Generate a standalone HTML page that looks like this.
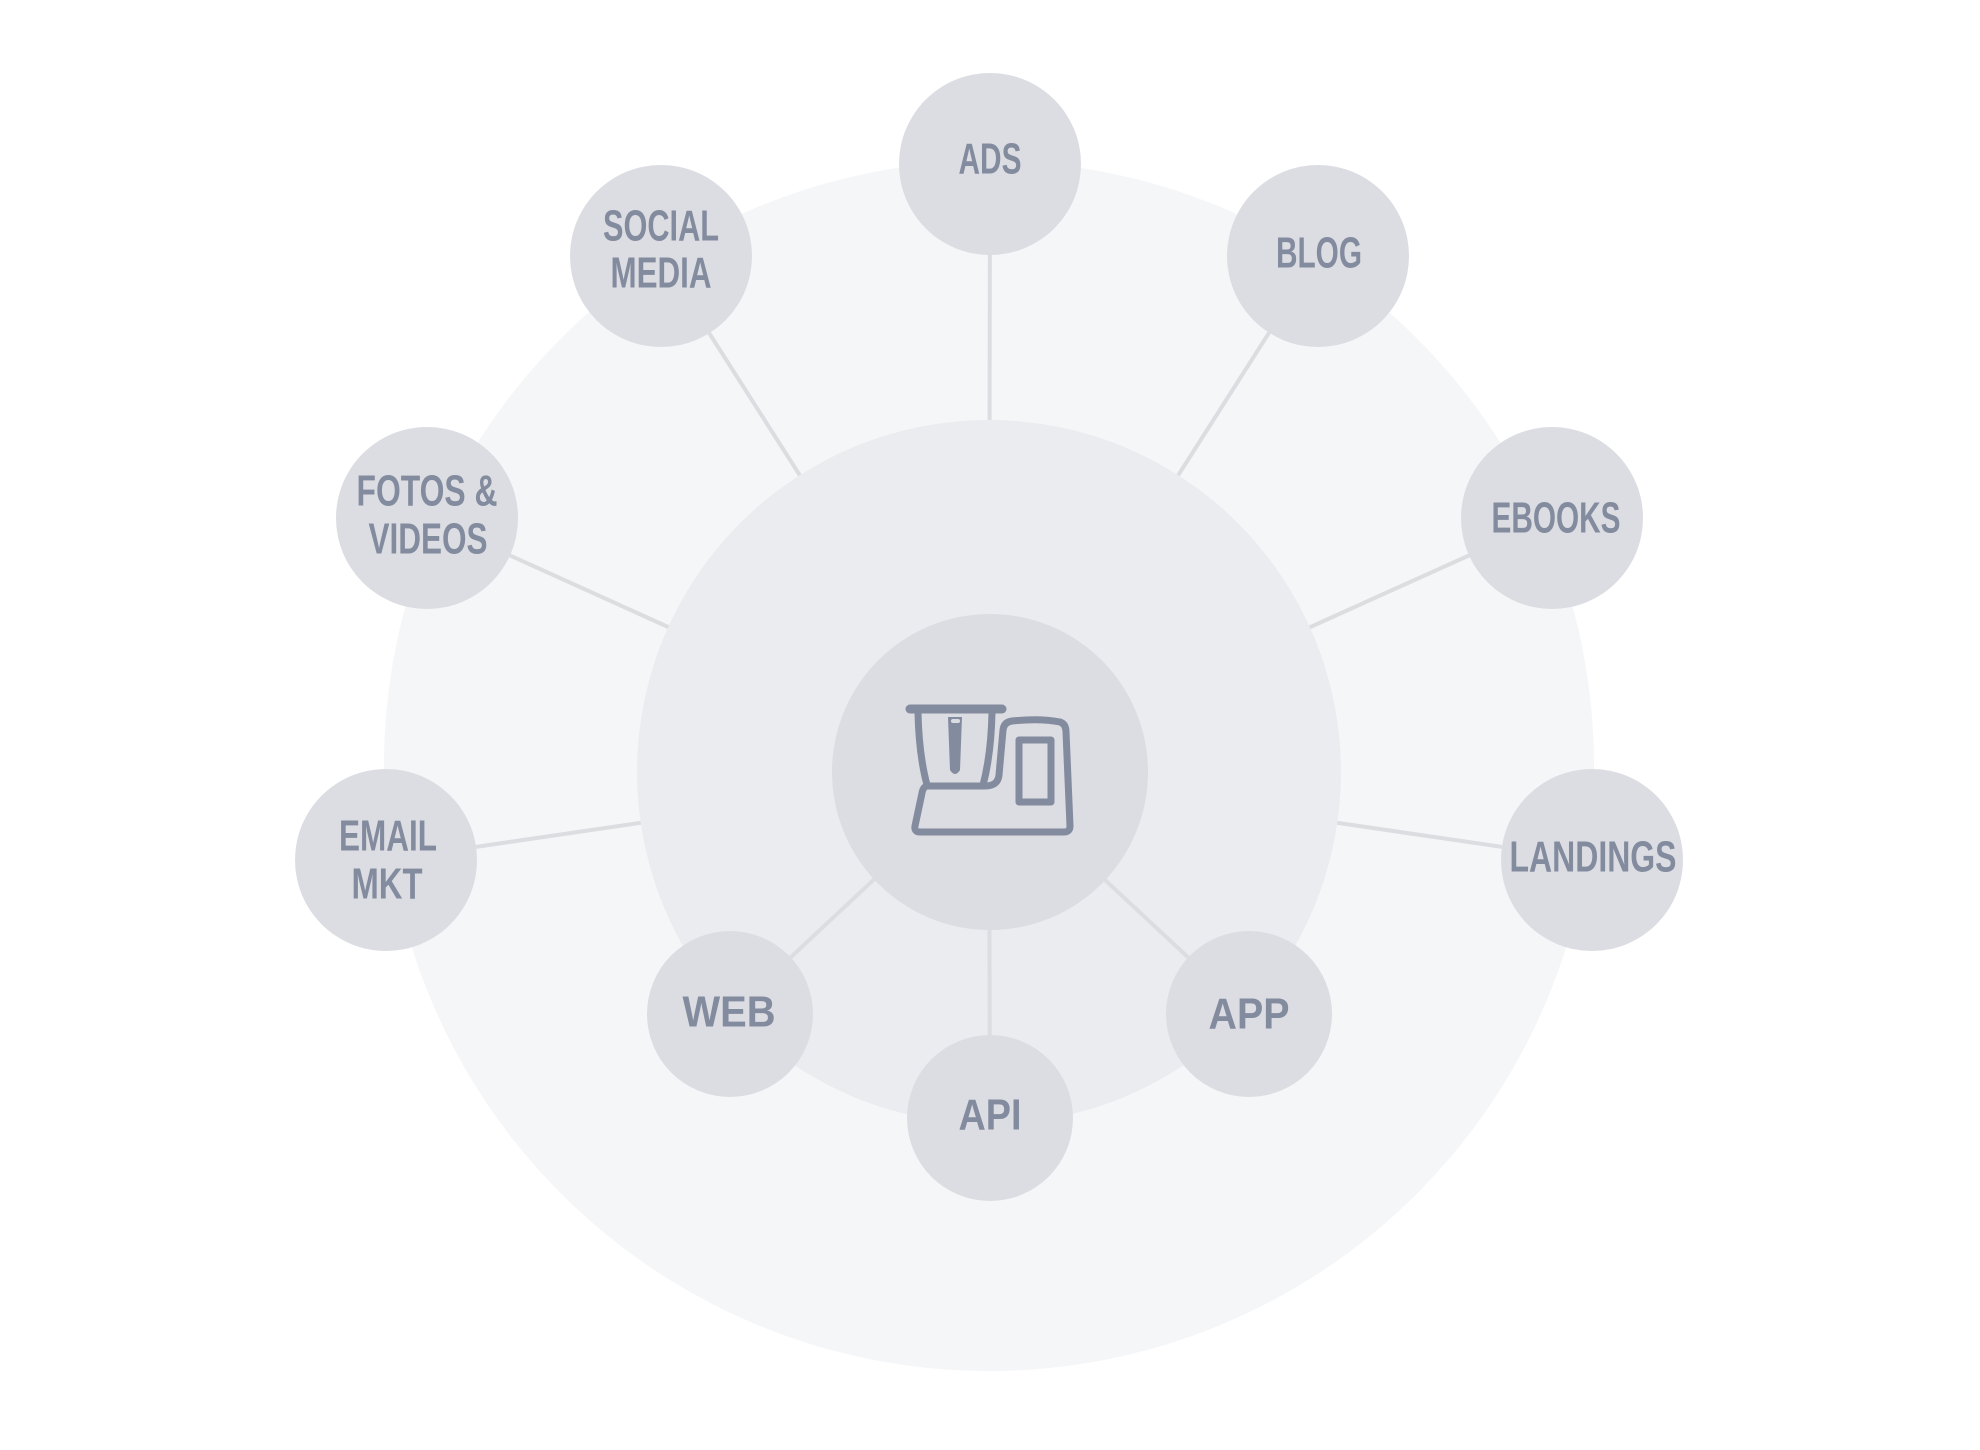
<!DOCTYPE html>
<html><head><meta charset="utf-8"><style>
html,body{margin:0;padding:0;background:#fff;}
svg{display:block}
text{font-family:"Liberation Sans Narrow","Liberation Sans",sans-serif;font-weight:bold;fill:#838b9e;font-size:44px;text-anchor:middle;dominant-baseline:central}
</style></head><body>
<svg width="1980" height="1450" viewBox="0 0 1980 1450" xmlns="http://www.w3.org/2000/svg">
<circle cx="989" cy="766" r="605" fill="#f5f6f8"/>
<g stroke="#dcdde1" stroke-width="4">
<line x1="990" y1="164" x2="989" y2="772"/>
<line x1="660" y1="256" x2="989" y2="772"/>
<line x1="1318" y1="256" x2="989" y2="772"/>
<line x1="427" y1="518" x2="989" y2="772"/>
<line x1="1552" y1="518" x2="989" y2="772"/>
<line x1="386" y1="860" x2="989" y2="772"/>
<line x1="1592" y1="860" x2="989" y2="772"/>
</g>
<circle cx="989" cy="772" r="352" fill="#ebecef"/>
<g stroke="#dcdde1" stroke-width="4">
<line x1="730" y1="1014" x2="989" y2="772"/>
<line x1="990" y1="1118" x2="989" y2="772"/>
<line x1="1249" y1="1014" x2="989" y2="772"/>
</g>
<circle cx="990" cy="772" r="158" fill="#dcdde2"/>
<g fill="#dcdde2">
<circle cx="990" cy="164" r="91"/>
<circle cx="661" cy="256" r="91"/>
<circle cx="1318" cy="256" r="91"/>
<circle cx="427" cy="518" r="91"/>
<circle cx="1552" cy="518" r="91"/>
<circle cx="386" cy="860" r="91"/>
<circle cx="1592" cy="860" r="91"/>
<circle cx="730" cy="1014" r="83"/>
<circle cx="990" cy="1118" r="83"/>
<circle cx="1249" cy="1014" r="83"/>
</g>
<g fill="none" stroke="#838b9e" stroke-width="7" stroke-linejoin="round" stroke-linecap="round">
<line x1="910" y1="709" x2="1002" y2="709" stroke-width="9"/>
<path d="M918,713 Q919,755 927,785"/>
<path d="M992,713 Q991,755 983,785"/>
<path d="M927,786 L985,786 Q998,786 999,775 L1003,730 Q1004,722 1012,721 Q1040,718 1060,722 Q1066,724 1066,732 L1070,826 Q1070,832 1064,832 L920,832 Q914,832 915,826 L922,793 Q923,787 927,786 Z"/>
<rect x="1019" y="740" width="32" height="62"/>
</g>
<path d="M948,717 L962,717 L960,770 Q955,778 950,770 Z" fill="#838b9e"/>
<rect x="951" y="719" width="9" height="4" rx="2" fill="#dcdde2"/>
<text x="990" y="159" textLength="63" lengthAdjust="spacingAndGlyphs">ADS</text>
<text x="661" y="226" textLength="116" lengthAdjust="spacingAndGlyphs">SOCIAL</text>
<text x="661" y="273" textLength="101" lengthAdjust="spacingAndGlyphs">MEDIA</text>
<text x="1319" y="253" textLength="86" lengthAdjust="spacingAndGlyphs">BLOG</text>
<text x="427" y="491" textLength="141" lengthAdjust="spacingAndGlyphs">FOTOS &amp;</text>
<text x="428" y="539" textLength="119" lengthAdjust="spacingAndGlyphs">VIDEOS</text>
<text x="1556" y="518" textLength="129" lengthAdjust="spacingAndGlyphs">EBOOKS</text>
<text x="388" y="836" textLength="98" lengthAdjust="spacingAndGlyphs">EMAIL</text>
<text x="387" y="884" textLength="71" lengthAdjust="spacingAndGlyphs">MKT</text>
<text x="1593" y="857" textLength="167" lengthAdjust="spacingAndGlyphs">LANDINGS</text>
<text x="729" y="1012" textLength="93" lengthAdjust="spacingAndGlyphs">WEB</text>
<text x="990" y="1115" textLength="63" lengthAdjust="spacingAndGlyphs">API</text>
<text x="1249" y="1014" textLength="81" lengthAdjust="spacingAndGlyphs">APP</text>
</svg>
</body></html>
